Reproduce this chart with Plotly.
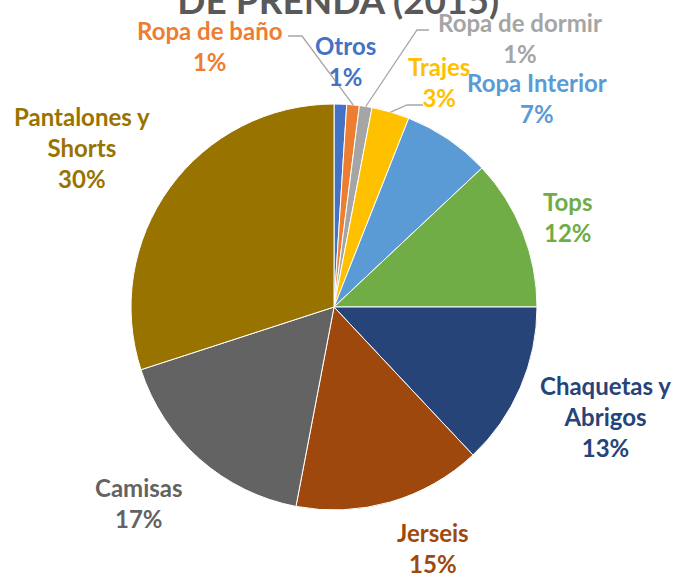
import math
import plotly.graph_objects as go

# ---- data ----
categories = ["Otros", "Ropa de baño", "Ropa de dormir", "Trajes", "Ropa Interior",
              "Tops", "Chaquetas y Abrigos", "Jerseis", "Camisas", "Pantalones y Shorts"]
label_text = ["Otros", "Ropa de baño", "Ropa de dormir", "Trajes", "Ropa Interior",
              "Tops", "Chaquetas y<br>Abrigos", "Jerseis", "Camisas", "Pantalones y<br>Shorts"]
values = [1, 1, 1, 3, 7, 12, 13, 15, 17, 30]
title_lines = ["VENTAS POR TIPO", "DE PRENDA (2015)"]

# ---- styling / layout ----
colors = ["#4472C4", "#ED7D31", "#A5A5A5", "#FFC000", "#5B9BD5",
          "#70AD47", "#264478", "#9E480E", "#636363", "#997300"]
W, H = 676, 573
cx, cy, r = 334, 307, 203
# label block centres (pixels from top-left)
label_pos = [(345, 61), (209, 46), (520, 38), (439, 82), (537, 98),
             (567, 217), (605, 416), (433, 548), (139, 503), (82, 147)]
# leader-line start / elbow points (pixels) for slices that need one
leaders = {1: [(288, 36), (302, 36)], 2: [(429, 30), (417, 30)], 3: [(423, 105), (407, 105)]}


def px(x, y):
    return x / W, 1 - y / H


fig = go.Figure(go.Pie(
    labels=categories, values=values, sort=False, direction="clockwise", rotation=0,
    marker=dict(colors=colors, line=dict(color="white", width=1)),
    textinfo="none", hoverinfo="label+percent", showlegend=False,
    domain=dict(x=[(cx - r) / W, (cx + r) / W], y=[(H - cy - r) / H, (H - cy + r) / H]),
))

total = sum(values)
annotations = []
shapes = []
cum = 0
for i, v in enumerate(values):
    mid = (cum + v / 2) / total * 2 * math.pi
    cum += v
    pct = round(v / total * 100)
    lx, ly = label_pos[i]
    ax_, ay_ = px(lx, ly)
    annotations.append(dict(
        x=ax_, y=ay_, xref="paper", yref="paper", xanchor="center", yanchor="middle",
        text=f"<b>{label_text[i]}<br>{pct}%</b>", showarrow=False,
        font=dict(family="Lato", size=24, color=colors[i]), align="center",
    ))
    if i in leaders:
        ex = cx + r * math.sin(mid)
        ey = cy - r * math.cos(mid)
        pts = leaders[i] + [(ex, ey)]
        path = "M " + " L ".join(f"{px(a, b)[0]},{px(a, b)[1]}" for a, b in pts)
        shapes.append(dict(type="path", path=path, xref="paper", yref="paper",
                           line=dict(color="#A6A6A6", width=1.3)))

annotations.append(dict(
    x=0.5, y=1 - 24 / H, xref="paper", yref="paper", xanchor="center", yanchor="bottom",
    text="<b>" + "<br>".join(title_lines) + "</b>", showarrow=False,
    font=dict(family="Lato", size=37, color="#595959"),
))

fig.update_layout(
    width=W, height=H, margin=dict(l=0, r=0, t=0, b=0),
    paper_bgcolor="white", annotations=annotations, shapes=shapes,
)
fig.write_html("out.html", config={"displayModeBar": False},
               post_script="document.body.style.margin='0';")
